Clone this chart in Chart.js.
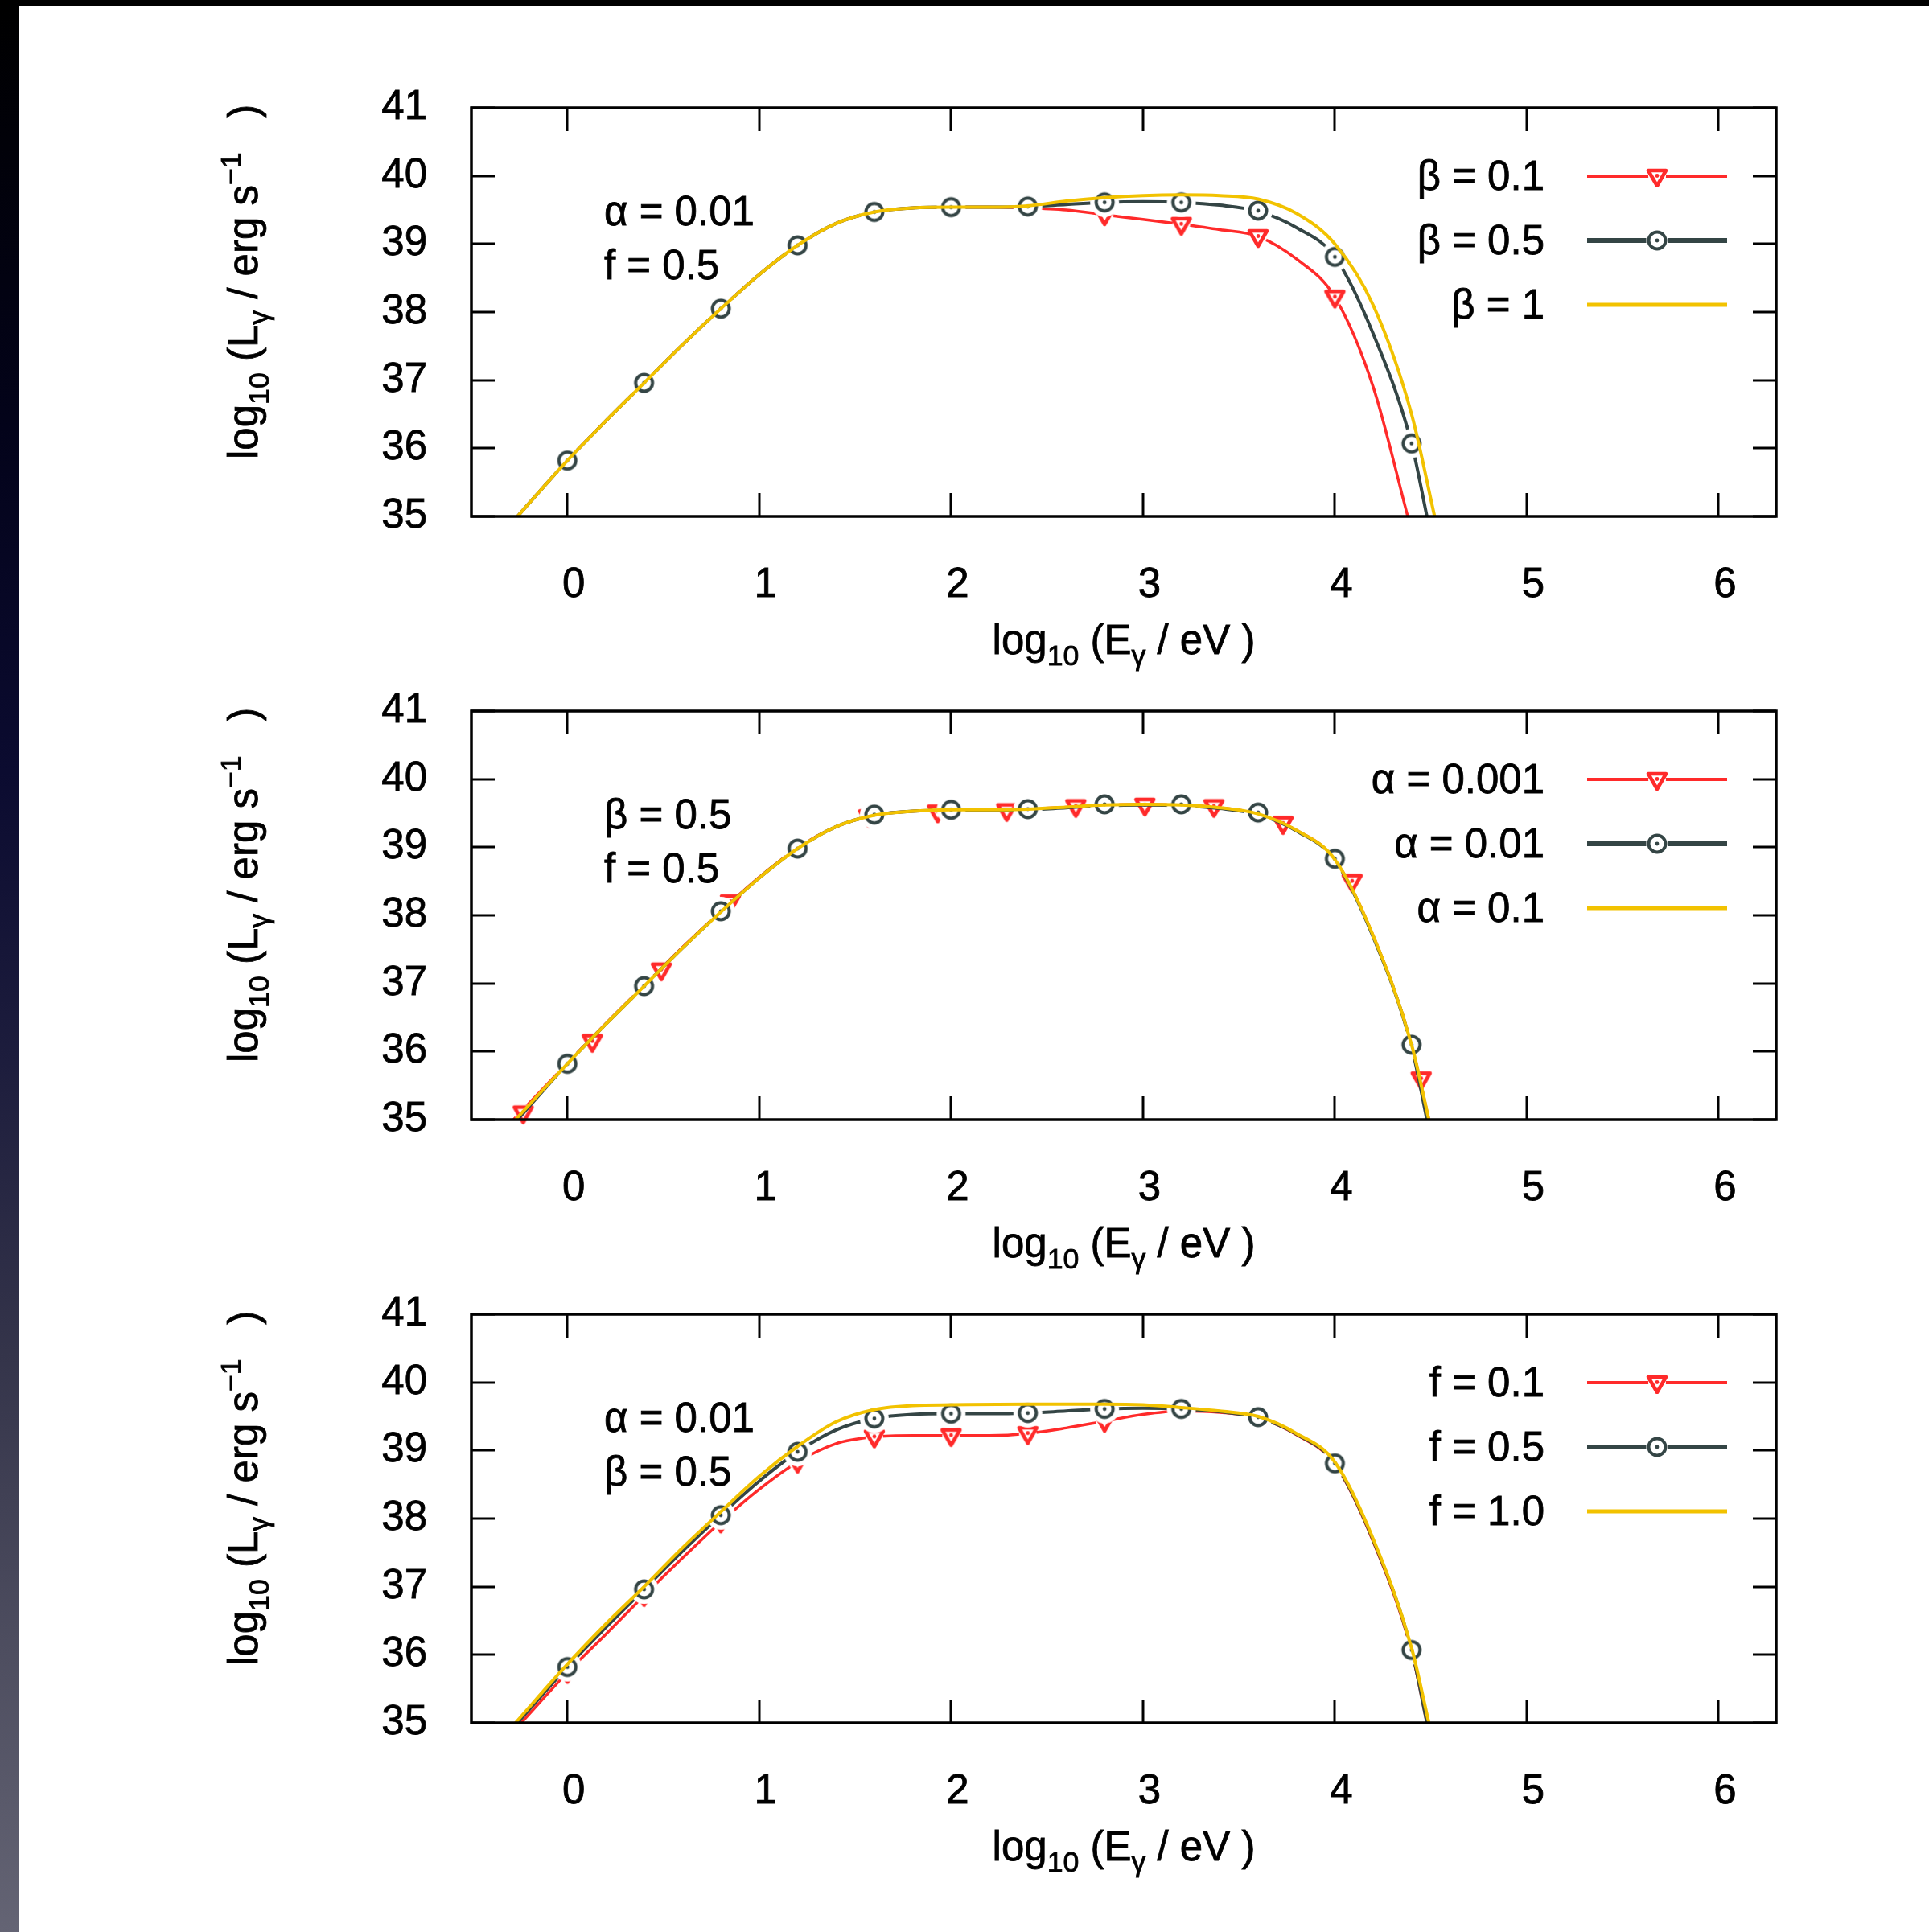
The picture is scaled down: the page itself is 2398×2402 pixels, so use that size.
<!DOCTYPE html>
<html>
<head>
<meta charset="utf-8">
<script src="https://cdn.jsdelivr.net/npm/chart.js@4.4.1/dist/chart.umd.min.js"></script>
<style>
  body { margin: 0; background: #fff; width: 2398px; height: 2402px; position: relative; overflow: hidden; }
  canvas { position: absolute; left: 0; }
  #strip { position: absolute; left: 0; top: 0; width: 23px; height: 2402px;
    background: linear-gradient(to bottom, #000 0%, #03031a 22%, #0b0b30 40%, #1d1d3d 55%, #34344a 70%, #4d4d5f 85%, #646474 100%); }
  #topbar { position: absolute; left: 0; top: 0; width: 2398px; height: 7px; background: #000; }
</style>
</head>
<body>
<canvas id="panel1" width="2398" height="860" style="top:0px"></canvas>
<canvas id="panel2" width="2398" height="860" style="top:750px"></canvas>
<canvas id="panel3" width="2398" height="860" style="top:1500px"></canvas>
<div id="strip"></div>
<div id="topbar"></div>
<script>
const FONT = '"Liberation Sans", Arial, Helvetica, sans-serif';

const xTicks = [0, 1, 2, 3, 4, 5, 6];
const yTicks = [35, 36, 37, 38, 39, 40, 41];
const markX = [0, 0.4, 0.8, 1.2, 1.6, 2.0, 2.4, 2.8, 3.2, 3.6, 4.0, 4.4];

// shared reference curve: alpha = 0.01, beta = 0.5, f = 0.5
const refLine = [[-0.26, 35.0], [0, 35.82], [0.2, 36.4], [0.4, 36.96], [0.6, 37.52], [0.8, 38.05],
  [1.0, 38.55], [1.2, 38.98], [1.4, 39.3], [1.6, 39.47], [1.8, 39.53], [2.0, 39.54], [2.2, 39.54],
  [2.4, 39.55], [2.6, 39.58], [2.8, 39.61], [3.0, 39.62], [3.2, 39.61], [3.4, 39.57], [3.6, 39.48],
  [3.8, 39.24], [4.0, 38.81], [4.2, 37.68], [4.4, 36.07], [4.48, 35.0]];
const refMarks = [35.82, 36.96, 38.05, 38.98, 39.47, 39.54, 39.55, 39.61, 39.61, 39.49, 38.81, 36.07];

// top panel: alpha = 0.01, f = 0.5
const beta01Line = [[-0.26, 35.0], [0, 35.82], [0.2, 36.4], [0.4, 36.96], [0.6, 37.52], [0.8, 38.05],
  [1.0, 38.55], [1.2, 38.98], [1.4, 39.3], [1.6, 39.47], [1.8, 39.53], [2.0, 39.54], [2.2, 39.54],
  [2.4, 39.53], [2.6, 39.5], [2.8, 39.43], [3.0, 39.36], [3.2, 39.29], [3.4, 39.21], [3.6, 39.11],
  [3.8, 38.78], [4.0, 38.22], [4.2, 36.9], [4.38, 35.0]];
const beta01Marks = [35.82, 36.96, 38.05, 38.98, 39.47, 39.54, 39.53, 39.43, 39.29, 39.11, 38.22];
const beta1Line = [[-0.26, 35.0], [0, 35.82], [0.2, 36.4], [0.4, 36.96], [0.6, 37.52], [0.8, 38.05],
  [1.0, 38.55], [1.2, 38.98], [1.4, 39.3], [1.6, 39.47], [1.8, 39.53], [2.0, 39.54], [2.2, 39.54],
  [2.4, 39.56], [2.6, 39.63], [2.8, 39.68], [3.0, 39.71], [3.2, 39.72], [3.4, 39.71], [3.6, 39.66],
  [3.8, 39.45], [4.0, 39.0], [4.2, 38.1], [4.4, 36.5], [4.52, 35.0]];

// middle panel: beta = 0.5, f = 0.5
const alpha0001Line = [[-0.28, 35.0], [0, 35.83], [0.2, 36.41], [0.4, 36.97], [0.6, 37.53], [0.8, 38.06],
  [1.0, 38.56], [1.2, 38.99], [1.4, 39.3], [1.6, 39.47], [1.8, 39.53], [2.0, 39.54], [2.2, 39.55],
  [2.4, 39.56], [2.6, 39.59], [2.8, 39.62], [3.0, 39.63], [3.2, 39.62], [3.4, 39.58], [3.6, 39.49],
  [3.8, 39.25], [4.0, 38.82], [4.2, 37.7], [4.4, 36.1], [4.49, 35.0]];
const alpha0001MarkX = [-0.23, 0.13, 0.49, 0.85, 1.21, 1.57, 1.93, 2.29, 2.65, 3.01, 3.37, 3.73, 4.09, 4.45];
const alpha0001Marks = [35.1, 36.15, 37.2, 38.2, 39.0, 39.45, 39.52, 39.54, 39.6, 39.62, 39.6, 39.35, 38.5, 35.6];
const alpha001Marks = [35.82, 36.96, 38.06, 38.98, 39.48, 39.55, 39.56, 39.63, 39.63, 39.51, 38.83, 36.1];
const alpha01Line = [[-0.27, 35.0], [0, 35.82], [0.2, 36.4], [0.4, 36.96], [0.6, 37.52], [0.8, 38.05],
  [1.0, 38.55], [1.2, 38.98], [1.4, 39.3], [1.6, 39.47], [1.8, 39.53], [2.0, 39.55], [2.2, 39.55],
  [2.4, 39.56], [2.6, 39.59], [2.8, 39.62], [3.0, 39.63], [3.2, 39.62], [3.4, 39.58], [3.6, 39.49],
  [3.8, 39.25], [4.0, 38.82], [4.2, 37.7], [4.4, 36.1], [4.49, 35.0]];

// bottom panel: alpha = 0.01, beta = 0.5
const f01Line = [[-0.24, 35.0], [0, 35.74], [0.2, 36.3], [0.4, 36.87], [0.6, 37.42], [0.8, 37.95],
  [1.0, 38.43], [1.2, 38.83], [1.4, 39.1], [1.6, 39.2], [1.8, 39.22], [2.0, 39.22], [2.2, 39.22],
  [2.4, 39.25], [2.6, 39.33], [2.8, 39.43], [3.0, 39.53], [3.2, 39.58], [3.4, 39.56], [3.6, 39.48],
  [3.8, 39.23], [4.0, 38.8], [4.2, 37.66], [4.4, 36.05], [4.48, 35.0]];
const f01Marks = [35.74, 36.87, 37.95, 38.83, 39.2, 39.22, 39.25, 39.43, 39.58, 39.48, 38.8, 36.05];
const f10Line = [[-0.27, 35.0], [0, 35.86], [0.2, 36.45], [0.4, 37.0], [0.6, 37.57], [0.8, 38.1],
  [1.0, 38.62], [1.2, 39.06], [1.4, 39.42], [1.6, 39.6], [1.8, 39.66], [2.0, 39.67], [2.4, 39.68],
  [2.8, 39.68], [3.0, 39.67], [3.2, 39.63], [3.4, 39.58], [3.6, 39.5], [3.8, 39.25], [4.0, 38.83],
  [4.2, 37.7], [4.4, 36.1], [4.49, 35.0]];

const RED = '#ff2a2a', GRAY = '#344545', GOLD = '#f2c200';

const pts = pairs => pairs.map(([x, y]) => ({ x, y }));
const marks = (xs, ys) => ys.map((y, i) => ({ x: xs[i], y }));

// open down-triangle on a white blank, with a centre dot
function triMark() {
  const c = document.createElement('canvas');
  c.width = 32; c.height = 32;
  const g = c.getContext('2d');
  g.fillStyle = '#fff';
  g.beginPath(); g.arc(16, 16, 11, 0, Math.PI * 2); g.fill();
  g.strokeStyle = RED; g.lineWidth = 4.5; g.lineJoin = 'round';
  g.beginPath(); g.moveTo(5, 9); g.lineTo(27, 9); g.lineTo(16, 28); g.closePath(); g.stroke();
  g.fillStyle = RED;
  g.beginPath(); g.arc(16, 15.5, 2.4, 0, Math.PI * 2); g.fill();
  return c;
}
// open circle on a white blank, with a centre dot
function circMark() {
  const c = document.createElement('canvas');
  c.width = 38; c.height = 38;
  const g = c.getContext('2d');
  g.fillStyle = '#fff';
  g.beginPath(); g.arc(19, 19, 18, 0, Math.PI * 2); g.fill();
  g.strokeStyle = GRAY; g.lineWidth = 4;
  g.beginPath(); g.arc(19, 19, 10.5, 0, Math.PI * 2); g.stroke();
  g.fillStyle = GRAY;
  g.beginPath(); g.arc(19, 19, 2.4, 0, Math.PI * 2); g.fill();
  return c;
}
const TRI = triMark(), CIRC = circMark();

function richWidth(ctx, parts, size) {
  let w = 0;
  for (const p of parts) {
    ctx.font = `${p.sub || p.sup ? size * 0.7 : size}px ${FONT}`;
    w += ctx.measureText(p.t).width;
  }
  return w;
}
function drawRich(ctx, parts, x, y, size) {
  let cx = x;
  for (const p of parts) {
    const fs = p.sub || p.sup ? size * 0.7 : size;
    const dy = p.sub ? size * 0.27 : p.sup ? -size * 0.42 : 0;
    ctx.font = `${fs}px ${FONT}`;
    ctx.fillText(p.t, cx, y + dy);
    ctx.strokeText(p.t, cx, y + dy);
    cx += ctx.measureText(p.t).width;
  }
}

const yTitle = [{ t: 'log' }, { t: '10', sub: true }, { t: ' (L' }, { t: 'γ', sub: true },
  { t: ' / erg s' }, { t: '−1', sup: true }, { t: '   )' }];
const xTitle = [{ t: 'log' }, { t: '10', sub: true }, { t: ' (E' }, { t: 'γ', sub: true }, { t: ' / eV )' }];

const panels = [
  { id: 'panel1', note: ['α = 0.01', 'f = 0.5'], keys: ['β = 0.1', 'β = 0.5', 'β = 1'],
    red: beta01Line, redMarkX: markX, redMarks: beta01Marks,
    gray: refLine, grayMarks: refMarks, gold: beta1Line },
  { id: 'panel2', note: ['β = 0.5', 'f = 0.5'], keys: ['α = 0.001', 'α = 0.01', 'α = 0.1'],
    red: alpha0001Line, redMarkX: alpha0001MarkX, redMarks: alpha0001Marks,
    gray: refLine, grayMarks: alpha001Marks, gold: alpha01Line },
  { id: 'panel3', note: ['α = 0.01', 'β = 0.5'], keys: ['f = 0.1', 'f = 0.5', 'f = 1.0'],
    red: f01Line, redMarkX: markX, redMarks: f01Marks,
    gray: refLine, grayMarks: refMarks, gold: f10Line },
];

function decorations(panel) {
  return {
    id: 'decor',
    afterDraw(chart) {
      const ctx = chart.ctx;
      const { left, right, top, bottom } = chart.chartArea;
      const xs = chart.scales.x, ys = chart.scales.y;
      ctx.save();
      ctx.strokeStyle = '#000';
      ctx.lineWidth = 3;
      const tl = 29;
      ctx.beginPath();
      for (const v of xTicks) {
        const px = Math.round(xs.getPixelForValue(v));
        ctx.moveTo(px, bottom); ctx.lineTo(px, bottom - tl);
        ctx.moveTo(px, top); ctx.lineTo(px, top + tl);
      }
      for (const v of yTicks) {
        const py = Math.round(ys.getPixelForValue(v));
        ctx.moveTo(left, py); ctx.lineTo(left + tl, py);
        ctx.moveTo(right, py); ctx.lineTo(right - tl, py);
      }
      ctx.stroke();
      ctx.lineWidth = 3.5;
      ctx.strokeRect(left, top, right - left, bottom - top);

      ctx.fillStyle = '#000';
      ctx.strokeStyle = '#000';
      ctx.lineWidth = 0.8;
      ctx.textBaseline = 'alphabetic';
      ctx.textAlign = 'left';
      // axis titles
      const size = 51;
      const xw = richWidth(ctx, xTitle, size);
      drawRich(ctx, xTitle, (left + right) / 2 - xw / 2, top + 679, size);
      ctx.save();
      ctx.translate(320, top + 437);
      ctx.rotate(-Math.PI / 2);
      drawRich(ctx, yTitle, 0, 0, size);
      ctx.restore();

      // parameter note
      ctx.font = `${size}px ${FONT}`;
      for (const [i, dy] of [146, 213].entries()) {
        ctx.fillText(panel.note[i], 751, top + dy);
        ctx.strokeText(panel.note[i], 751, top + dy);
      }

      // key
      const rows = [85, 165, 245];
      const colors = [RED, GRAY, GOLD];
      const widths = [4, 6, 5];
      const icons = [TRI, CIRC, null];
      ctx.textAlign = 'right';
      for (let i = 0; i < 3; i++) {
        const yy = top + rows[i];
        ctx.fillStyle = '#000';
        ctx.strokeStyle = '#000';
        ctx.lineWidth = 0.8;
        ctx.fillText(panel.keys[i], 1920, yy + 17);
        ctx.strokeText(panel.keys[i], 1920, yy + 17);
        ctx.strokeStyle = colors[i];
        ctx.lineWidth = widths[i];
        ctx.beginPath(); ctx.moveTo(1973, yy); ctx.lineTo(2147, yy); ctx.stroke();
        if (icons[i]) {
          // key icons sit directly on the sample line, without the white blank
          const r = i === 0 ? 11 : 10.5;
          ctx.save();
          ctx.beginPath(); ctx.rect(2060 - r - 3, yy - r - 3, 2 * r + 6, 2 * r + 6); ctx.clip();
          ctx.drawImage(icons[i], 2060 - icons[i].width / 2, yy - icons[i].height / 2);
          ctx.restore();
        }
      }
      ctx.restore();
    }
  };
}

const tickFont = { family: FONT, size: 51 };

for (const panel of panels) {
  new Chart(document.getElementById(panel.id), {
    type: 'line',
    data: {
      datasets: [
        { data: pts(panel.gold), borderColor: GOLD, borderWidth: 4, pointRadius: 0,
          cubicInterpolationMode: 'monotone', order: 1 },
        { data: marks(markX, panel.grayMarks), showLine: false, pointStyle: CIRC, pointRadius: 12,
          clip: false, order: 2 },
        { data: pts(panel.gray), borderColor: GRAY, borderWidth: 4, pointRadius: 0,
          cubicInterpolationMode: 'monotone', order: 3 },
        { data: marks(panel.redMarkX, panel.redMarks), showLine: false, pointStyle: TRI, pointRadius: 12,
          clip: false, order: 4 },
        { data: pts(panel.red), borderColor: RED, borderWidth: 3.5, pointRadius: 0,
          cubicInterpolationMode: 'monotone', order: 5 },
      ]
    },
    options: {
      responsive: false,
      animation: false,
      events: [],
      layout: { padding: { left: 0, right: 190, top: 134, bottom: 0 } },
      plugins: { legend: { display: false }, tooltip: { enabled: false } },
      scales: {
        x: {
          type: 'linear', min: -0.5, max: 6.3,
          grid: { display: false, drawTicks: false }, border: { display: false },
          afterBuildTicks: s => { s.ticks = xTicks.map(v => ({ value: v })); },
          afterFit: s => { s.height = 218; },
          ticks: { font: tickFont, color: '#000', padding: 55, labelOffset: 8,
            textStrokeColor: '#000', textStrokeWidth: 0.8, autoSkip: false, maxRotation: 0 }
        },
        y: {
          type: 'linear', min: 35, max: 41,
          grid: { display: false, drawTicks: false }, border: { display: false },
          afterBuildTicks: s => { s.ticks = yTicks.map(v => ({ value: v })); },
          afterFit: s => { s.width = 586; },
          ticks: { font: tickFont, color: '#000', padding: 55,
            textStrokeColor: '#000', textStrokeWidth: 0.8 }
        }
      }
    },
    plugins: [decorations(panel)]
  });
}
</script>
</body>
</html>
